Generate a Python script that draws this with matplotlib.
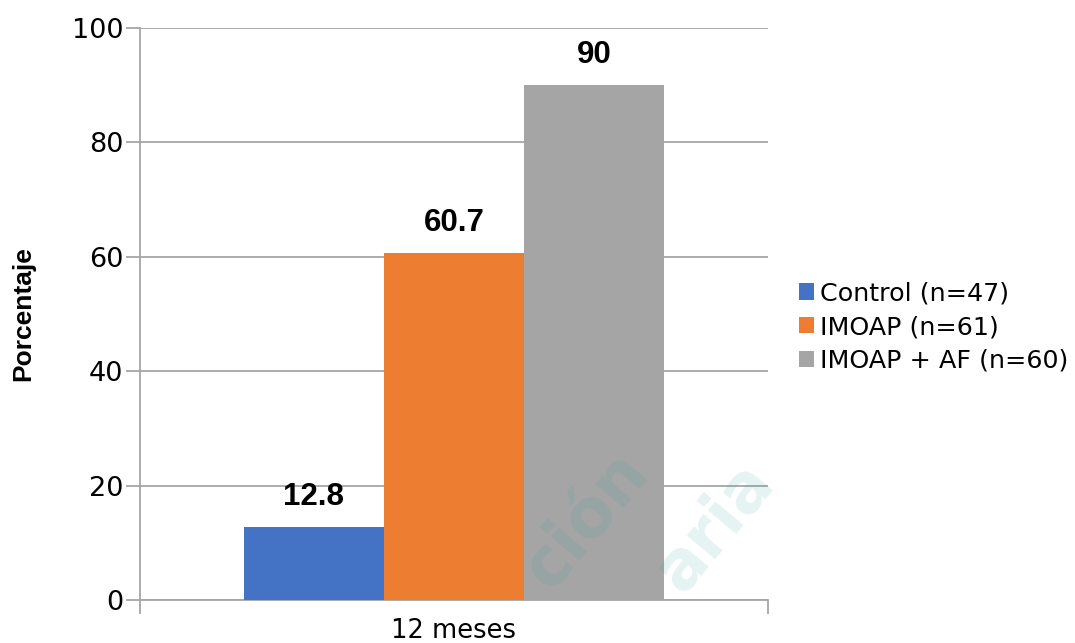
import numpy as np
import matplotlib.pyplot as plt

plt.rcParams['font.family'] = ['DejaVu Sans']

# data
categoria = ['12 meses']
grupos = ['Control (n=47)', 'IMOAP (n=61)', 'IMOAP + AF (n=60)']
valores = [12.8, 60.7, 90]
etiquetas = ['12.8', '60.7', '90']
colores = ['#4472C4', '#ED7D31', '#A5A5A5']

fig = plt.figure(figsize=(10.75, 6.43), dpi=100)
ax = fig.add_axes([140/1075, 43/643, 628/1075, 572/643])

ancho = 0.223
x = np.arange(len(categoria))
for i, (g, v, c) in enumerate(zip(grupos, valores, colores)):
    ax.bar(x + (i - 1)*ancho, [v], width=ancho, color=c, label=g, zorder=3)
    ax.annotate(etiquetas[i], (x[0] + (i - 1)*ancho, v), xytext=(0, 11),
                textcoords='offset points', ha='center', va='bottom',
                fontsize=22.5, fontweight='bold', family='Liberation Sans', zorder=4)

ax.set_xlim(-0.5, 0.5)
ax.set_ylim(0, 100)
ax.set_yticks(np.arange(0, 101, 20))
ax.set_xticks([-0.5, 0.5], minor=False)
ax.set_xticklabels(['', ''])
ax.set_xticks([0], minor=True)
ax.set_xticklabels(categoria, minor=True)
ax.tick_params(axis='x', which='minor', length=0, labelsize=18.5, pad=13)
ax.tick_params(axis='x', which='major', length=10, width=1.3, color='#a6a6a6')
ax.tick_params(axis='y', length=10, width=1.3, color='#a6a6a6', labelsize=19.5, pad=2)

ax.yaxis.grid(True, color='#a6a6a6', linewidth=1.3, zorder=0)
ax.set_axisbelow(True)
for s in ['top', 'right']:
    ax.spines[s].set_visible(False)
for s in ['left', 'bottom']:
    ax.spines[s].set_color('#a6a6a6')
    ax.spines[s].set_linewidth(1.3)

ax.set_ylabel('Porcentaje', fontsize=19, fontweight='bold', family='Liberation Sans', labelpad=26)

leg = ax.legend(loc='center left', bbox_to_anchor=(1.033, 0.477), frameon=False,
                fontsize=18.3, handlelength=0.6, handleheight=0.6, handletextpad=0.22,
                labelspacing=0.38, borderaxespad=0)

# marca de agua
fig.text(0.545, 0.19, 'ción', fontsize=48, fontweight='bold', rotation=50,
         color='#2a9d9a', alpha=0.12, ha='center', va='center', zorder=10)
fig.text(0.665, 0.18, 'aria', fontsize=48, fontweight='bold', rotation=50,
         color='#2a9d9a', alpha=0.12, ha='center', va='center', zorder=10)

fig.savefig('out.png', dpi=100)
